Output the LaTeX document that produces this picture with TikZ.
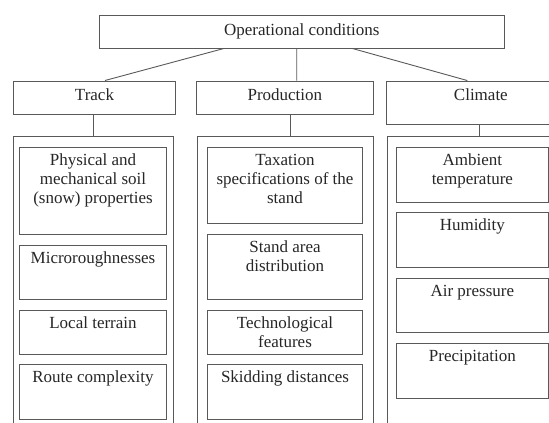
\documentclass[tikz,border=0pt]{standalone}
\usepackage{fontspec}
\setmainfont{Liberation Serif}
\usetikzlibrary{positioning}
\tikzstyle{box} = [draw=black!65,line width=0.9pt,inner sep=0pt,rectangle]
\tikzstyle{txt} = [inner sep=0pt,align=center,text=black!85,font=\fontsize{17}{18.8}\selectfont]
\tikzstyle{link} = [draw=black!65,line width=0.9pt]

\begin{document}
\begin{tikzpicture}[x=1pt,y=-1pt]
  \useasboundingbox (0,0) rectangle (549,423);
  \clip (0,0) rectangle (549,423);
  \node[box,minimum width=404.7pt,minimum height=33pt] (oc) at (301.7,31.5) {};
  \node[box,minimum width=162.4pt,minimum height=33.3pt] (track) at (94.5,97.6) {};
  \node[box,minimum width=176.3pt,minimum height=33pt] (prod) at (284.85,97.5) {};
  \node[box,minimum width=188.3pt,minimum height=43.3pt] (clim) at (480.85,102.65) {};
  \node[txt,below=9.2pt of oc.north] (octxt) {Operational conditions};
  \node[txt,below=8.4pt of track.north] (tracktxt) {Track};
  \node[txt,below=8.4pt of prod.north] (prodtxt) {Production};
  \node[txt,below=8.4pt of clim.north] (climtxt) {Climate};
  \draw[link] ([xshift=-77.7pt]oc.south) -- ([xshift=10.5pt]track.north);
  \draw[link] ([xshift=-5pt]oc.south) -- ([xshift=11.85pt]prod.north);
  \draw[link] ([xshift=50.6pt]oc.south) -- ([xshift=-13.5pt]clim.north);
  \node[box,minimum width=159.7pt,minimum height=314pt] (trc) at (93.15,293) {};
  \node[box,minimum width=176pt,minimum height=314pt] (prc) at (285,293) {};
  \node[box,minimum width=188pt,minimum height=314pt] (clc) at (481,293) {};
  \draw[link] ([xshift=-1.2pt]track.south) -- ([xshift=-1.2pt]track.south |- trc.north);
  \draw[link] ([xshift=5.85pt]prod.south) -- ([xshift=5.85pt]prod.south |- prc.north);
  \draw[link] ([xshift=-1.2pt]clim.south) -- ([xshift=-1.2pt]clim.south |- clc.north);
  \node[box,minimum width=147.4pt,minimum height=87pt] (tr1) at (93,190.5) {};
  \node[box,minimum width=147.4pt,minimum height=54pt] (tr2) at (93,272) {};
  \node[box,minimum width=147.4pt,minimum height=44pt] (tr3) at (93,332) {};
  \node[box,minimum width=147.4pt,minimum height=55pt] (tr4) at (93,391.5) {};
  \node[txt,below=7.4pt of tr1.north] (tr1txt) {Physical and\\mechanical soil\\(snow) properties};
  \node[txt,below=7.4pt of tr2.north] (tr2txt) {Microroughnesses};
  \node[txt,below=7.4pt of tr3.north] (tr3txt) {Local terrain};
  \node[txt,below=7.4pt of tr4.north] (tr4txt) {Route complexity};
  \node[box,minimum width=155.4pt,minimum height=76pt] (pr1) at (285,185) {};
  \node[box,minimum width=155.4pt,minimum height=65pt] (pr2) at (285,266.5) {};
  \node[box,minimum width=155.4pt,minimum height=44pt] (pr3) at (285,332) {};
  \node[box,minimum width=155.4pt,minimum height=55pt] (pr4) at (285,391.5) {};
  \node[txt,below=7.4pt of pr1.north] (pr1txt) {Taxation\\specifications of the\\stand};
  \node[txt,below=7.4pt of pr2.north] (pr2txt) {Stand area\\distribution};
  \node[txt,below=7.4pt of pr3.north] (pr3txt) {Technological\\features};
  \node[txt,below=7.4pt of pr4.north] (pr4txt) {Skidding distances};
  \node[box,minimum width=151.3pt,minimum height=55pt] (cl1) at (472.35,174.5) {};
  \node[box,minimum width=151.3pt,minimum height=55pt] (cl2) at (472.35,239.5) {};
  \node[box,minimum width=151.3pt,minimum height=54pt] (cl3) at (472.35,305) {};
  \node[box,minimum width=151.3pt,minimum height=55pt] (cl4) at (472.35,370.5) {};
  \node[txt,below=7.4pt of cl1.north] (cl1txt) {Ambient\\temperature};
  \node[txt,below=7.4pt of cl2.north] (cl2txt) {Humidity};
  \node[txt,below=7.4pt of cl3.north] (cl3txt) {Air pressure};
  \node[txt,below=7.4pt of cl4.north] (cl4txt) {Precipitation};
\end{tikzpicture}
\end{document}
